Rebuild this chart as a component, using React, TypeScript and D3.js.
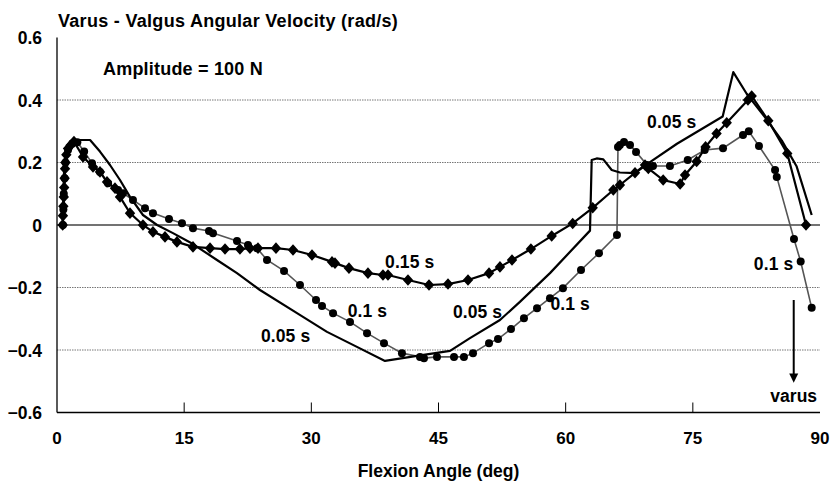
import React from "react";
import * as d3 from "d3";

const W = 831;
const H = 485;

const xTicks = [0, 15, 30, 45, 60, 75, 90];
const yTicks = [-0.6, -0.4, -0.2, 0, 0.2, 0.4, 0.6];
const gridValues = [-0.4, -0.2, 0.2, 0.4];

// 0.05 s – solid line, no markers
const s005: [number, number][] = [
  [0.7, 0.0], [0.8, 0.15], [0.9, 0.21], [1.3, 0.25], [2.3, 0.272], [3.9, 0.272],
  [5.07, 0.235], [6.25, 0.192], [7.43, 0.144], [8.61, 0.09], [10.14, 0.032],
  [11.8, 0.0], [13.68, -0.026], [16.04, -0.061], [18.87, -0.112], [21.23, -0.154],
  [23.94, -0.208], [28.31, -0.282], [31.85, -0.342], [35.38, -0.39], [38.69, -0.435],
  [42.46, -0.419], [46.36, -0.403], [48.71, -0.362], [52.25, -0.304], [54.6, -0.246],
  [58.15, -0.154], [62.87, -0.018], [63.07, 0.208], [63.66, 0.213], [64.44, 0.21],
  [65.43, 0.176], [66.4, 0.168], [68.18, 0.166], [69.6, 0.195], [73.13, 0.26],
  [78.52, 0.347], [79.77, 0.489], [81.35, 0.42], [83.5, 0.345], [85.5, 0.27],
  [87.25, 0.187], [89.02, 0.032],
];

// 0.1 s – circles
const s010: [number, number][] = [
  [0.7, 0.0], [0.75, 0.05], [0.8, 0.1], [0.9, 0.15], [1.0, 0.2], [1.3, 0.24],
  [1.8, 0.26], [2.4, 0.265], [3.2, 0.235], [4.13, 0.198], [5.07, 0.17], [6.02, 0.134],
  [7.2, 0.112], [7.78, 0.102], [8.96, 0.08], [10.38, 0.054], [11.32, 0.038],
  [13.21, 0.019], [14.74, 0.006], [16.04, -0.01], [17.93, -0.019], [18.4, -0.026],
  [21.23, -0.051], [22.53, -0.064], [23.59, -0.074], [24.77, -0.112], [26.78, -0.147],
  [28.66, -0.192], [30.55, -0.24], [31.26, -0.259], [32.56, -0.282], [34.56, -0.31],
  [36.57, -0.346], [38.57, -0.378], [40.69, -0.41], [42.82, -0.422], [43.29, -0.426],
  [44.82, -0.422], [46.83, -0.422], [48.0, -0.422], [49.07, -0.41], [50.96, -0.378],
  [52.02, -0.365], [53.55, -0.333], [55.08, -0.298], [56.62, -0.266], [58.15, -0.234],
  [59.68, -0.202], [61.81, -0.144], [63.93, -0.09], [66.05, -0.032], [66.17, 0.25],
  [66.4, 0.256], [66.88, 0.266], [67.59, 0.256], [68.3, 0.234], [69.6, 0.192],
  [70.3, 0.189], [72.3, 0.189], [74.4, 0.208], [76.4, 0.24], [78.56, 0.246],
  [80.92, 0.288], [81.6, 0.30], [82.8, 0.253], [84.7, 0.176], [84.9, 0.154],
  [86.93, -0.045], [87.72, -0.117], [89.02, -0.265],
];

// 0.15 s – diamonds
const s015: [number, number][] = [
  [0.67, 0.0], [0.7, 0.03], [0.75, 0.06], [0.8, 0.09], [0.85, 0.12], [0.9, 0.15],
  [0.95, 0.18], [1.0, 0.2], [1.1, 0.225], [1.3, 0.245], [1.6, 0.255], [2.0, 0.267],
  [3.07, 0.218], [4.25, 0.186], [5.07, 0.17], [5.9, 0.138], [6.84, 0.118], [7.43, 0.09],
  [8.61, 0.038], [10.14, 0.0], [11.32, -0.022], [12.74, -0.038], [14.15, -0.054],
  [16.04, -0.07], [18.05, -0.074], [19.82, -0.077], [21.58, -0.077], [22.76, -0.074],
  [23.71, -0.074], [25.83, -0.074], [27.84, -0.08], [30.08, -0.096], [32.44, -0.118],
  [32.79, -0.122], [34.44, -0.138], [36.68, -0.154], [38.45, -0.16], [39.04, -0.16],
  [41.4, -0.176], [43.88, -0.192], [46.12, -0.189], [48.48, -0.176], [50.96, -0.154],
  [52.25, -0.134], [53.67, -0.112], [55.9, -0.077], [58.35, -0.035], [60.83, 0.005],
  [63.19, 0.055], [65.62, 0.112], [66.4, 0.128], [68.18, 0.167], [69.36, 0.192],
  [69.75, 0.181], [71.5, 0.144], [73.5, 0.131], [74.08, 0.16], [75.45, 0.203],
  [76.5, 0.25], [77.8, 0.293], [79.0, 0.327], [81.5, 0.40], [81.94, 0.413],
  [83.9, 0.334], [86.14, 0.229], [88.35, 0.0],
];

// annotations: [text, angle, velocity]
const labels: [string, number, number][] = [
  ["0.15 s", 38.7, -0.138],
  ["0.1 s", 34.3, -0.294],
  ["0.05 s", 24.06, -0.374],
  ["0.05 s", 46.7, -0.298],
  ["0.1 s", 58.2, -0.272],
  ["0.05 s", 69.6, 0.31],
  ["0.1 s", 82.2, -0.144],
];

const FONT = "'Liberation Sans', Arial, Helvetica, sans-serif";

const diamondType = {
  draw(ctx: any, size: number) {
    const h = Math.sqrt(size) * 0.7;
    const w = h * 0.9;
    ctx.moveTo(0, -h);
    ctx.lineTo(w, 0);
    ctx.lineTo(0, h);
    ctx.lineTo(-w, 0);
    ctx.closePath();
  },
};

export default function App() {
  const x = d3.scaleLinear().domain([0, 90]).range([57, 820]);
  const y = d3.scaleLinear().domain([-0.6, 0.6]).range([412.5, 37.5]);
  const line = d3
    .line<[number, number]>()
    .x((d) => x(d[0]))
    .y((d) => y(d[1]));
  const diamond = d3.symbol(diamondType as any, 68)() as string;

  return (
    <svg
      width={W}
      height={H}
      style={{ position: "absolute", left: 0, top: 0, background: "#fff" }}
      fontFamily={FONT}
      fontWeight="bold"
    >
      <rect x={0} y={0} width={W} height={H} fill="#fff" />
      {/* grid */}
      {gridValues.map((v) => (
        <line
          key={v}
          x1={x(0)}
          x2={x(90)}
          y1={y(v)}
          y2={y(v)}
          stroke="#777"
          strokeWidth={1}
          strokeDasharray="1.5,1"
        />
      ))}
      <line x1={x(0)} x2={x(90)} y1={y(0)} y2={y(0)} stroke="#444" strokeWidth={1.6} />
      {/* axes */}
      <line x1={x(0)} x2={x(0)} y1={y(0.6)} y2={y(-0.6)} stroke="#000" strokeWidth={1.3} />
      <line x1={x(0)} x2={x(90)} y1={y(-0.6)} y2={y(-0.6)} stroke="#000" strokeWidth={1.5} />
      {xTicks
        .filter((t) => t > 0 && t < 90)
        .map((t) => (
          <line key={t} x1={x(t)} x2={x(t)} y1={y(-0.6)} y2={y(-0.6) - 10} stroke="#000" strokeWidth={1} />
        ))}
      {/* tick labels */}
      {yTicks.map((t) => (
        <text key={t} x={42} y={y(t) + 6.5} textAnchor="end" fontSize={17.5}>
          {t === 0 ? "0" : d3.format(".1f")(t)}
        </text>
      ))}
      {xTicks.map((t) => (
        <text key={t} x={x(t)} y={444} textAnchor="middle" fontSize={17}>
          {t}
        </text>
      ))}
      <text x={(x(0) + x(90)) / 2} y={477} textAnchor="middle" fontSize={17.5}>
        Flexion Angle (deg)
      </text>
      <text x={58} y={27} fontSize={18} letterSpacing={0.3}>
        Varus - Valgus Angular Velocity (rad/s)
      </text>
      <text x={103} y={75} fontSize={18} letterSpacing={0.2}>
        Amplitude = 100 N
      </text>

      {/* series 0.1 s */}
      <path d={line(s010) || ""} fill="none" stroke="#555" strokeWidth={1.6} />
      {s010.map((d, i) => (
        <circle key={i} cx={x(d[0])} cy={y(d[1])} r={4} fill="#000" />
      ))}
      {/* series 0.15 s */}
      <path d={line(s015) || ""} fill="none" stroke="#000" strokeWidth={2.2} />
      {s015.map((d, i) => (
        <path key={i} d={diamond} transform={`translate(${x(d[0])},${y(d[1])})`} fill="#000" />
      ))}
      {/* series 0.05 s */}
      <path d={line(s005) || ""} fill="none" stroke="#000" strokeWidth={2.2} strokeLinejoin="round" />

      {labels.map((l, i) => (
        <text key={i} x={x(l[1])} y={y(l[2])} fontSize={17.5} letterSpacing={0.1}>
          {l[0]}
        </text>
      ))}
      {/* varus arrow */}
      <line x1={x(86.9)} x2={x(86.9)} y1={y(-0.24)} y2={y(-0.49)} stroke="#000" strokeWidth={2} />
      <path
        d={`M${x(86.9) - 4.5},${y(-0.475)} L${x(86.9)},${y(-0.505)} L${x(86.9) + 4.5},${y(-0.475)} Z`}
        fill="#000"
      />
      <text x={x(86.9)} y={402} textAnchor="middle" fontSize={17.5}>
        varus
      </text>
    </svg>
  );
}
